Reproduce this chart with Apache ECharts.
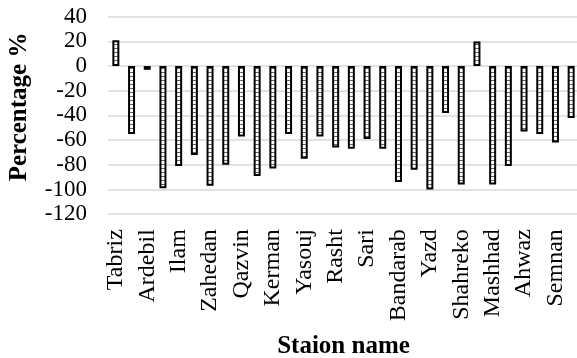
<!DOCTYPE html>
<html>
<head>
<meta charset="utf-8">
<script src="https://cdn.jsdelivr.net/npm/echarts@6/dist/echarts.min.js"></script>
<style>html,body{margin:0;padding:0;background:#fff}#c{width:577px;height:358px}</style>
</head>
<body>
<div id="c"></div>
<script>
var categories = ["Tabriz","Urmia","Ardebil","Isfahan","Ilam","Bushehr","Zahedan","Tehran","Qazvin","Qom",
  "Kerman","Kermanshah","Yasouj","Gorgan","Rasht","Khorramabad","Sari","Arak","Bandarab","Hamedan",
  "Yazd","Birjand","Shahreko","Bojnurd","Mashhad","Sanandaj","Ahwaz","Shiraz","Semnan","Zanjan"];
var values = [21,-55,-3,-99,-81,-72,-97,-80,-57,-89,
  -83,-55,-75,-57,-66,-67,-59,-67,-94,-84,
  -100,-38,-96,20,-96,-81,-53,-55,-62,-42];
var yMin = -120, yMax = 40, yStep = 20;

var pc = document.createElement('canvas');
pc.width = 4; pc.height = 4;
var ctx = pc.getContext('2d');
ctx.fillStyle = '#ffffff'; ctx.fillRect(0,0,4,4);
ctx.fillStyle = '#666666'; ctx.fillRect(0,0,4,1);

var font = 'Liberation Serif';
var chart = echarts.init(document.getElementById('c'), null, {renderer:'canvas'});
chart.setOption({
  animation: false,
  grid: {left: 108, top: 16.7, width: 471, height: 197.5, containLabel: false, outerBoundsMode: 'none'},
  xAxis: {
    type: 'category', data: categories,
    name: 'Staion name', nameLocation: 'middle', nameGap: 120,
    nameTextStyle: {fontFamily: font, fontSize: 25, fontWeight: 'bold', color: '#000'},
    axisLine: {show: false}, axisTick: {show: false},
    axisLabel: {interval: 1, rotate: 90, margin: 15, fontFamily: font, fontSize: 24, color: '#000'}
  },
  yAxis: {
    type: 'value', min: yMin, max: yMax, interval: yStep,
    name: 'Percentage %', nameLocation: 'middle', nameGap: 76,
    nameTextStyle: {fontFamily: font, fontSize: 25, fontWeight: 'bold', color: '#000', padding: [0,0,0,17]},
    axisLine: {show: false}, axisTick: {show: false},
    axisLabel: {margin: 21, fontFamily: font, fontSize: 23, color: '#000', padding: [4,0,0,0]},
    splitLine: {lineStyle: {color: '#d9d9d9', width: 1.5}}
  },
  series: [{
    type: 'bar', data: values, barWidth: 7,
    itemStyle: {color: {image: pc, repeat: 'repeat'}, borderColor: '#000', borderWidth: 2}
  }]
});
</script>
</body>
</html>
